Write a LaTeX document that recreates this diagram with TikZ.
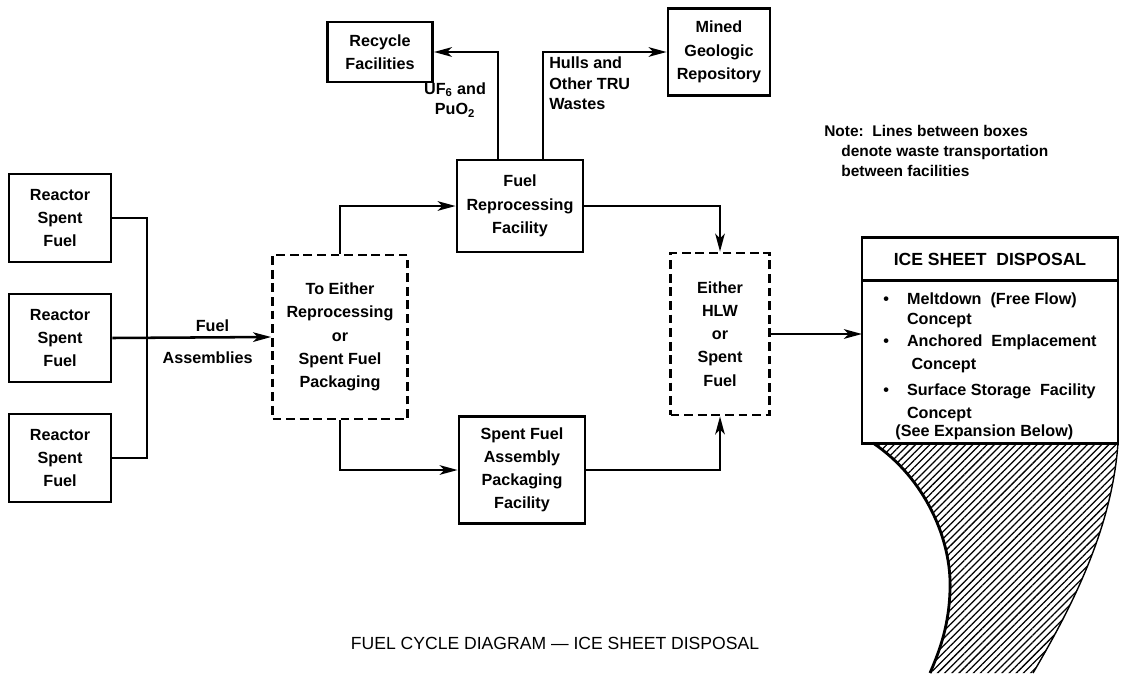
\documentclass[tikz,border=0pt]{standalone}
\usepackage{fontspec}
\setmainfont{Liberation Sans}
\usetikzlibrary{arrows.meta, positioning, calc, patterns.meta}

\begin{document}
\begin{tikzpicture}[
  x=0.25mm, y=-0.25mm,
  font=\fontsize{11.5}{16.5}\selectfont\bfseries,
  >={Stealth[length=4.5mm, width=2.4mm, inset=1.2mm]},
  solidbox/.style={rectangle, draw=black, line width=2pt, align=center, inner sep=1pt},
  dashbox/.style={rectangle, draw=black, line width=2pt, dash pattern=on 2.2mm off 1.2mm,
                  align=center, inner sep=1pt},
  icebox/.style={rectangle, draw=black, line width=2pt, outer sep=0pt,
                 minimum width=64mm, inner sep=1pt},
  flow/.style={line width=1.8pt},
  arrow/.style={flow, ->},
  lbl/.style={inner sep=1pt, align=center, font=\fontsize{11.5}{14.5}\selectfont\bfseries}
]
\useasboundingbox (0,0) rectangle (1122,673);

% --- reactors ---
\foreach \i/\y in {1/218, 2/338, 3/458} {
  \node[solidbox, minimum width=25.5mm, minimum height=22mm] (r\i) at (60,\y) {Reactor\\Spent\\Fuel};
}

% --- facilities ---
\node[dashbox, minimum width=33.75mm, minimum height=41mm] (sel) at (340,337)
  {To Either\\Reprocessing\\or\\Spent Fuel\\Packaging};
\node[solidbox, minimum width=31.5mm, minimum height=23mm] (fr) at (520,206)
  {Fuel\\Reprocessing\\Facility};
\node[solidbox, minimum width=26.25mm, minimum height=15mm] (rc) at (380,52)
  {Recycle\\Facilities};
\node[solidbox, minimum width=25.5mm, minimum height=21.75mm] (mg) at (719,52)
  {Mined\\Geologic\\Repository};
\node[dashbox, minimum width=24.75mm, minimum height=40.5mm] (hlw) at (720,334)
  {Either\\HLW\\or\\Spent\\Fuel};
\node[solidbox, minimum width=31.5mm, minimum height=26.75mm] (sf) at (522,470)
  {Spent Fuel\\Assembly\\Packaging\\Facility};

% --- ice sheet disposal ---
\node[icebox, minimum height=10.75mm, font=\fontsize{12.5}{14}\selectfont\bfseries] (icehead) at (990,259)
  {ICE SHEET\ \ DISPOSAL};
\node[icebox, minimum height=40.75mm, below=0pt of icehead, font=\fontsize{11.5}{14.2}\selectfont\bfseries] (ice)
  {\raisebox{0pt}[\height][\dimexpr\depth-6.4pt\relax]{%
   \begin{tabular}{@{}c@{\hspace{4.5mm}}l@{}}
   \textbullet & Meltdown\ \ (Free Flow)\\
               & Concept\\[1.4pt]
   \textbullet & Anchored\ \ Emplacement\\[2.1pt]
               & \ Concept\\[4.9pt]
   \textbullet & Surface Storage\ \ Facility\\[2.1pt]
               & Concept\\[-1.4pt]
   \multicolumn{2}{@{}l@{}}{\hspace{3mm}(See Expansion Below)}
   \end{tabular}}};

% --- hatched ice sheet ---
\fill[pattern={Lines[angle=45, distance=3.6pt, line width=0.9pt]}]
  (873,443) .. controls (925,478) and (952,540) .. (950,590)
  .. controls (949,625) and (940,650) .. (930,673)
  -- (1033,673) .. controls (1070,610) and (1112,530) .. (1118,443) -- cycle;
\draw[line width=2pt] (873,443) .. controls (925,478) and (952,540) .. (950,590)
  .. controls (949,625) and (940,650) .. (930,673);
\draw[line width=1pt] (1033,673) .. controls (1070,610) and (1112,530) .. (1118,443);

% --- connectors ---
\coordinate (bus) at (147,338);
\draw[flow] (r1.east) -| (bus) |- (r3.east);
\draw[arrow] (r2.east) -- (sel.west)
  node[lbl, pos=0.63, above=2pt] (fuel) {Fuel}
  node[lbl, pos=0.60, below=8pt] (assy) {Assemblies};
\draw[arrow] (sel.north) |- (fr.west);
\draw[arrow] (sel.south) |- (sf.west);
\draw[arrow] ($(fr.north)+(-22,0)$) |- (rc.east);
\draw[arrow] ($(fr.north)+(23,0)$) |- (mg.west);
\draw[arrow] (fr.east) -| (hlw.north);
\draw[arrow] (sf.east) -| (hlw.south);
\draw[arrow] (hlw.east) -- (hlw.east -| ice.west);

% --- labels ---
\node[lbl] (uf) at (455,100) {UF\textsubscript{6} and\\PuO\textsubscript{2}};
\node[lbl, anchor=north west, align=left, inner sep=0pt] (hulls) at (549,57)
  {Hulls and\\Other TRU\\Wastes};
\node[anchor=north west, align=left, inner sep=0pt, font=\fontsize{11}{14.2}\selectfont\bfseries] (note) at (824,125)
  {Note:\ \ Lines between boxes\\\hspace*{1.1em}denote waste transportation\\\hspace*{1.1em}between facilities};
\node[font=\fontsize{12.5}{14}\selectfont] (caption) at (555,643)
  {FUEL CYCLE DIAGRAM --- ICE SHEET DISPOSAL};
\end{tikzpicture}
\end{document}
